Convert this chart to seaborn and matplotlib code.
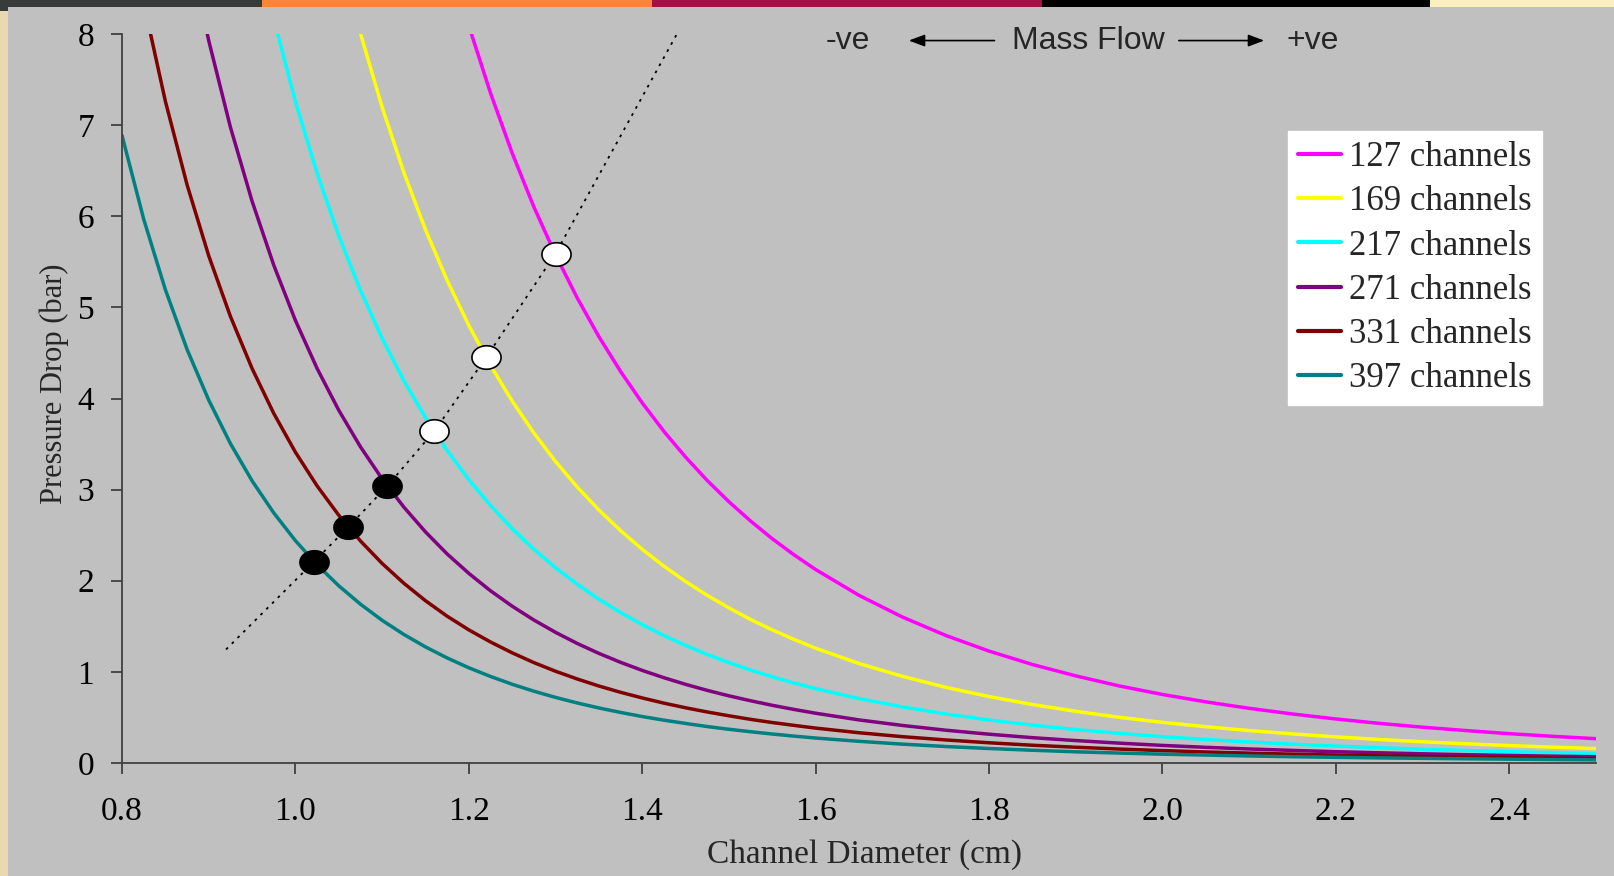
import numpy as np
import pandas as pd
import matplotlib
matplotlib.use("Agg")
import matplotlib.pyplot as plt
from matplotlib.path import Path
from matplotlib.patches import Rectangle
import seaborn as sns

# ---------------- data ----------------
series_names = ["127 channels", "169 channels", "217 channels",
                "271 channels", "331 channels", "397 channels"]
series_colors = ["#FF00FF", "#FFFF00", "#00FFFF", "#800080", "#800000", "#008080"]

d_127 = [1.175, 1.2, 1.225, 1.25, 1.275,
         1.3, 1.325, 1.35, 1.375, 1.4, 1.425, 1.45, 1.475, 1.5, 1.525, 1.55, 1.575, 1.6,
         1.65, 1.7, 1.75, 1.8, 1.85, 1.9, 1.95, 2.0, 2.05, 2.1, 2.15, 2.2, 2.25, 2.3, 2.35, 2.4, 2.45, 2.5]
p_127 = [8.92, 8.09, 7.352, 6.693, 6.103,
         5.576, 5.104, 4.679, 4.297, 3.952, 3.639, 3.357, 3.100, 2.867, 2.655, 2.461, 2.285, 2.123,
         1.840, 1.602, 1.400, 1.228, 1.081, 0.956, 0.846, 0.752, 0.671, 0.600, 0.538, 0.483, 0.435, 0.393, 0.356, 0.322, 0.293, 0.267]

d_169 = [1.05, 1.075, 1.1, 1.125, 1.15, 1.175, 1.2, 1.225, 1.25, 1.275,
         1.3, 1.325, 1.35, 1.375, 1.4, 1.425, 1.45, 1.475, 1.5, 1.525, 1.55, 1.575, 1.6,
         1.65, 1.7, 1.75, 1.8, 1.85, 1.9, 1.95, 2.0, 2.05, 2.1, 2.15, 2.2, 2.25, 2.3, 2.35, 2.4, 2.45, 2.5]
p_169 = [8.934, 8.008, 7.197, 6.483, 5.853, 5.296, 4.802, 4.363, 3.972, 3.622,
         3.309, 3.029, 2.777, 2.550, 2.345, 2.160, 1.992, 1.840, 1.702, 1.575, 1.461, 1.356, 1.260,
         1.092, 0.951, 0.831, 0.729, 0.642, 0.567, 0.502, 0.446, 0.398, 0.356, 0.319, 0.287, 0.258, 0.233, 0.211, 0.191, 0.174, 0.158]

d_217 = [0.975, 1.0, 1.025, 1.05, 1.075, 1.1, 1.125, 1.15, 1.175, 1.2, 1.225, 1.25, 1.275,
         1.3, 1.325, 1.35, 1.375, 1.4, 1.425, 1.45, 1.475, 1.5, 1.525, 1.55, 1.575, 1.6,
         1.65, 1.7, 1.75, 1.8, 1.85, 1.9, 1.95, 2.0, 2.05, 2.1, 2.15, 2.2, 2.25, 2.3, 2.35, 2.4, 2.45, 2.5]
p_217 = [8.168, 7.260, 6.472, 5.786, 5.187, 4.661, 4.198, 3.790, 3.430, 3.110, 2.826, 2.572, 2.346,
         2.143, 1.962, 1.798, 1.651, 1.519, 1.399, 1.290, 1.191, 1.102, 1.020, 0.946, 0.878, 0.816,
         0.707, 0.616, 0.538, 0.472, 0.415, 0.367, 0.325, 0.289, 0.258, 0.230, 0.207, 0.186, 0.167, 0.151, 0.137, 0.124, 0.113, 0.102]

d_271 = [0.875, 0.9, 0.925, 0.95, 0.975, 1.0, 1.025, 1.05, 1.075, 1.1, 1.125, 1.15, 1.175, 1.2, 1.225, 1.25, 1.275,
         1.3, 1.325, 1.35, 1.375, 1.4, 1.425, 1.45, 1.475, 1.5, 1.525, 1.55, 1.575, 1.6,
         1.65, 1.7, 1.75, 1.8, 1.85, 1.9, 1.95, 2.0, 2.05, 2.1, 2.15, 2.2, 2.25, 2.3, 2.35, 2.4, 2.45, 2.5]
p_271 = [9.037, 7.928, 6.979, 6.166, 5.464, 4.857, 4.330, 3.871, 3.470, 3.118, 2.809, 2.536, 2.294, 2.081, 1.890, 1.721, 1.569,
         1.434, 1.312, 1.203, 1.105, 1.016, 0.936, 0.863, 0.797, 0.737, 0.683, 0.633, 0.588, 0.546,
         0.473, 0.412, 0.360, 0.316, 0.278, 0.246, 0.218, 0.193, 0.172, 0.154, 0.138, 0.124, 0.112, 0.101, 0.091, 0.083, 0.075, 0.069]

d_331 = [0.825, 0.85, 0.875, 0.9, 0.925, 0.95, 0.975, 1.0, 1.025, 1.05, 1.075, 1.1, 1.125, 1.15, 1.175, 1.2, 1.225, 1.25, 1.275,
         1.3, 1.325, 1.35, 1.375, 1.4, 1.425, 1.45, 1.475, 1.5, 1.525, 1.55, 1.575, 1.6,
         1.65, 1.7, 1.75, 1.8, 1.85, 1.9, 1.95, 2.0, 2.05, 2.1, 2.15, 2.2, 2.25, 2.3, 2.35, 2.4, 2.45, 2.5]
p_331 = [8.344, 7.263, 6.347, 5.567, 4.902, 4.330, 3.837, 3.411, 3.041, 2.719, 2.437, 2.190, 1.973, 1.781, 1.611, 1.461, 1.328, 1.209, 1.102,
         1.007, 0.922, 0.845, 0.776, 0.714, 0.657, 0.606, 0.560, 0.518, 0.479, 0.444, 0.413, 0.383,
         0.332, 0.289, 0.253, 0.222, 0.195, 0.173, 0.153, 0.136, 0.121, 0.108, 0.097, 0.087, 0.079, 0.071, 0.064, 0.058, 0.053, 0.048]

d_397 = [0.8, 0.825, 0.85, 0.875, 0.9, 0.925, 0.95, 0.975, 1.0, 1.025, 1.05, 1.075, 1.1, 1.125, 1.15, 1.175, 1.2, 1.225, 1.25, 1.275,
         1.3, 1.325, 1.35, 1.375, 1.4, 1.425, 1.45, 1.475, 1.5, 1.525, 1.55, 1.575, 1.6,
         1.65, 1.7, 1.75, 1.8, 1.85, 1.9, 1.95, 2.0, 2.05, 2.1, 2.15, 2.2, 2.25, 2.3, 2.35, 2.4, 2.45, 2.5]
p_397 = [6.887, 5.969, 5.195, 4.540, 3.983, 3.506, 3.097, 2.745, 2.440, 2.175, 1.945, 1.743, 1.566, 1.411, 1.274, 1.153, 1.045, 0.950, 0.864, 0.788,
         0.720, 0.659, 0.604, 0.555, 0.510, 0.470, 0.434, 0.400, 0.370, 0.343, 0.318, 0.295, 0.274,
         0.238, 0.207, 0.181, 0.159, 0.140, 0.123, 0.109, 0.097, 0.087, 0.077, 0.069, 0.062, 0.056, 0.051, 0.046, 0.042, 0.038, 0.034]

# design points on each curve
point_d = [1.30, 1.22, 1.16, 1.106, 1.061, 1.0215]
point_p = [5.59, 4.45, 3.64, 3.04, 2.59, 2.21]
point_open = [True, True, True, False, False, False]

# dotted locus through the design points
locus_d = [0.920, 1.0215, 1.061, 1.106, 1.16, 1.22, 1.30, 1.440]
locus_p = [1.246, 2.21, 2.59, 3.04, 3.64, 4.45, 5.59, 8.0]

x_ticks = [0.8, 1.0, 1.2, 1.4, 1.6, 1.8, 2.0, 2.2, 2.4]
y_ticks = [0, 1, 2, 3, 4, 5, 6, 7, 8]

# ---------------- build table ----------------
all_d = [d_127, d_169, d_217, d_271, d_331, d_397]
all_p = [p_127, p_169, p_217, p_271, p_331, p_397]
frames = []
for name, dd, pp in zip(series_names, all_d, all_p):
    frames.append(pd.DataFrame({"d": dd, "p": pp, "series": name}))
df = pd.concat(frames, ignore_index=True)
pts = pd.DataFrame({"d": point_d, "p": point_p, "open": point_open})

# ---------------- style ----------------
BG = "#C0C0C0"
sns.set_theme(style="ticks")
plt.rcParams["font.family"] = ["Liberation Serif", "DejaVu Serif"]
plt.rcParams["figure.facecolor"] = BG
plt.rcParams["axes.facecolor"] = BG

fig = plt.figure(figsize=(16.15, 8.76), dpi=100)
ax = fig.add_axes([122 / 1615, 1 - 763 / 876, (1596 - 122) / 1615, (763 - 34) / 876])
ax.set_facecolor(BG)

# decorations: top colour band and left strip
band = [(0, 262, "#373B3A"), (262, 652, "#FB8535"), (652, 1042, "#A31246"),
        (1042, 1430, "#000000"), (1430, 1615, "#FAEFC0")]
for x0, x1, c in band:
    fig.patches.append(Rectangle((x0 / 1615, 1 - 7 / 876), (x1 - x0) / 1615, 7 / 876,
                                 transform=fig.transFigure, facecolor=c, edgecolor="none", zorder=0))
fig.patches.append(Rectangle((0, 1 - 11 / 876), 8 / 1615, 11 / 876, transform=fig.transFigure,
                             facecolor="#373B3A", edgecolor="none", zorder=0))
fig.patches.append(Rectangle((0, 0), 8 / 1615, 1 - 11 / 876, transform=fig.transFigure,
                             facecolor="#E9D8B0", edgecolor="none", zorder=0))

palette = dict(zip(series_names, series_colors))
sns.lineplot(data=df, x="d", y="p", hue="series", hue_order=series_names, palette=palette,
             linewidth=2.5, ax=ax, sort=True, estimator=None, legend="full")

# dotted locus
ax.plot(locus_d, locus_p, color="black", linewidth=1.3, linestyle=(0, (1.5, 3.0)), zorder=3)

# elliptical markers
theta = np.linspace(0, 2 * np.pi, 60)
ell = Path(np.column_stack([1.24 * np.cos(theta), np.sin(theta)]), closed=True)
op = pts[pts["open"]]
cl = pts[~pts["open"]]
sns.scatterplot(data=op, x="d", y="p", marker=ell, s=440, color="white",
                edgecolor="black", linewidth=1.2, ax=ax, zorder=5, legend=False)
sns.scatterplot(data=cl, x="d", y="p", marker=ell, s=440, color="black",
                edgecolor="black", linewidth=1.2, ax=ax, zorder=5, legend=False)

ax.set_xlim(0.8, 2.5)
ax.set_ylim(0, 8)
ax.set_xticks(x_ticks)
ax.set_xticklabels([f"{v:.1f}" for v in x_ticks])
ax.set_yticks(y_ticks)
ax.set_yticklabels([str(v) for v in y_ticks])
for s in ["top", "right"]:
    ax.spines[s].set_visible(False)
for s in ["left", "bottom"]:
    ax.spines[s].set_color("#404040")
    ax.spines[s].set_linewidth(1.3)
ax.tick_params(axis="both", direction="out", length=8, width=1.3, color="#404040",
               labelsize=24, labelcolor="black")
ax.tick_params(axis="x", pad=16)
ax.tick_params(axis="y", pad=12)
ax.set_xlabel("Channel Diameter (cm)", fontsize=24, labelpad=9)
ax.set_ylabel("Pressure Drop (bar)", fontsize=22, labelpad=6)
ax.xaxis.label.set_x(0.504)
ax.yaxis.label.set_y(0.52)
ax.grid(False)

# legend
old = ax.get_legend()
handles = old.legend_handles
labels = [t.get_text() for t in old.get_texts()]
old.remove()
for h in handles:
    h.set_linewidth(3)
leg = ax.legend(handles, labels, loc="upper right", bbox_to_anchor=(0.9634, 0.867),
                borderaxespad=0, frameon=True, fancybox=False, framealpha=1,
                facecolor="white", edgecolor="white", fontsize=25,
                handlelength=1.24, handletextpad=0.23, labelspacing=0.32, borderpad=0.3)

# mass-flow annotation
sans = ["Liberation Sans", "DejaVu Sans"]
ty = 0.991
ax.text(0.4925, ty, "-ve", transform=ax.transAxes, ha="center", va="center", fontsize=23, family=sans)
ax.text(0.6554, ty, "Mass Flow", transform=ax.transAxes, ha="center", va="center", fontsize=23, family=sans)
ax.text(0.808, ty, "+ve", transform=ax.transAxes, ha="center", va="center", fontsize=23, family=sans)
ax.annotate("", xy=(0.5319, ty), xytext=(0.5938, ty), xycoords="axes fraction",
            arrowprops=dict(arrowstyle="-|>,head_length=0.8,head_width=0.3", color="black", lw=1.2))
ax.annotate("", xy=(0.7768, ty), xytext=(0.7151, ty), xycoords="axes fraction",
            arrowprops=dict(arrowstyle="-|>,head_length=0.8,head_width=0.3", color="black", lw=1.2))

fig.savefig("out.png", dpi=100, facecolor=BG)
